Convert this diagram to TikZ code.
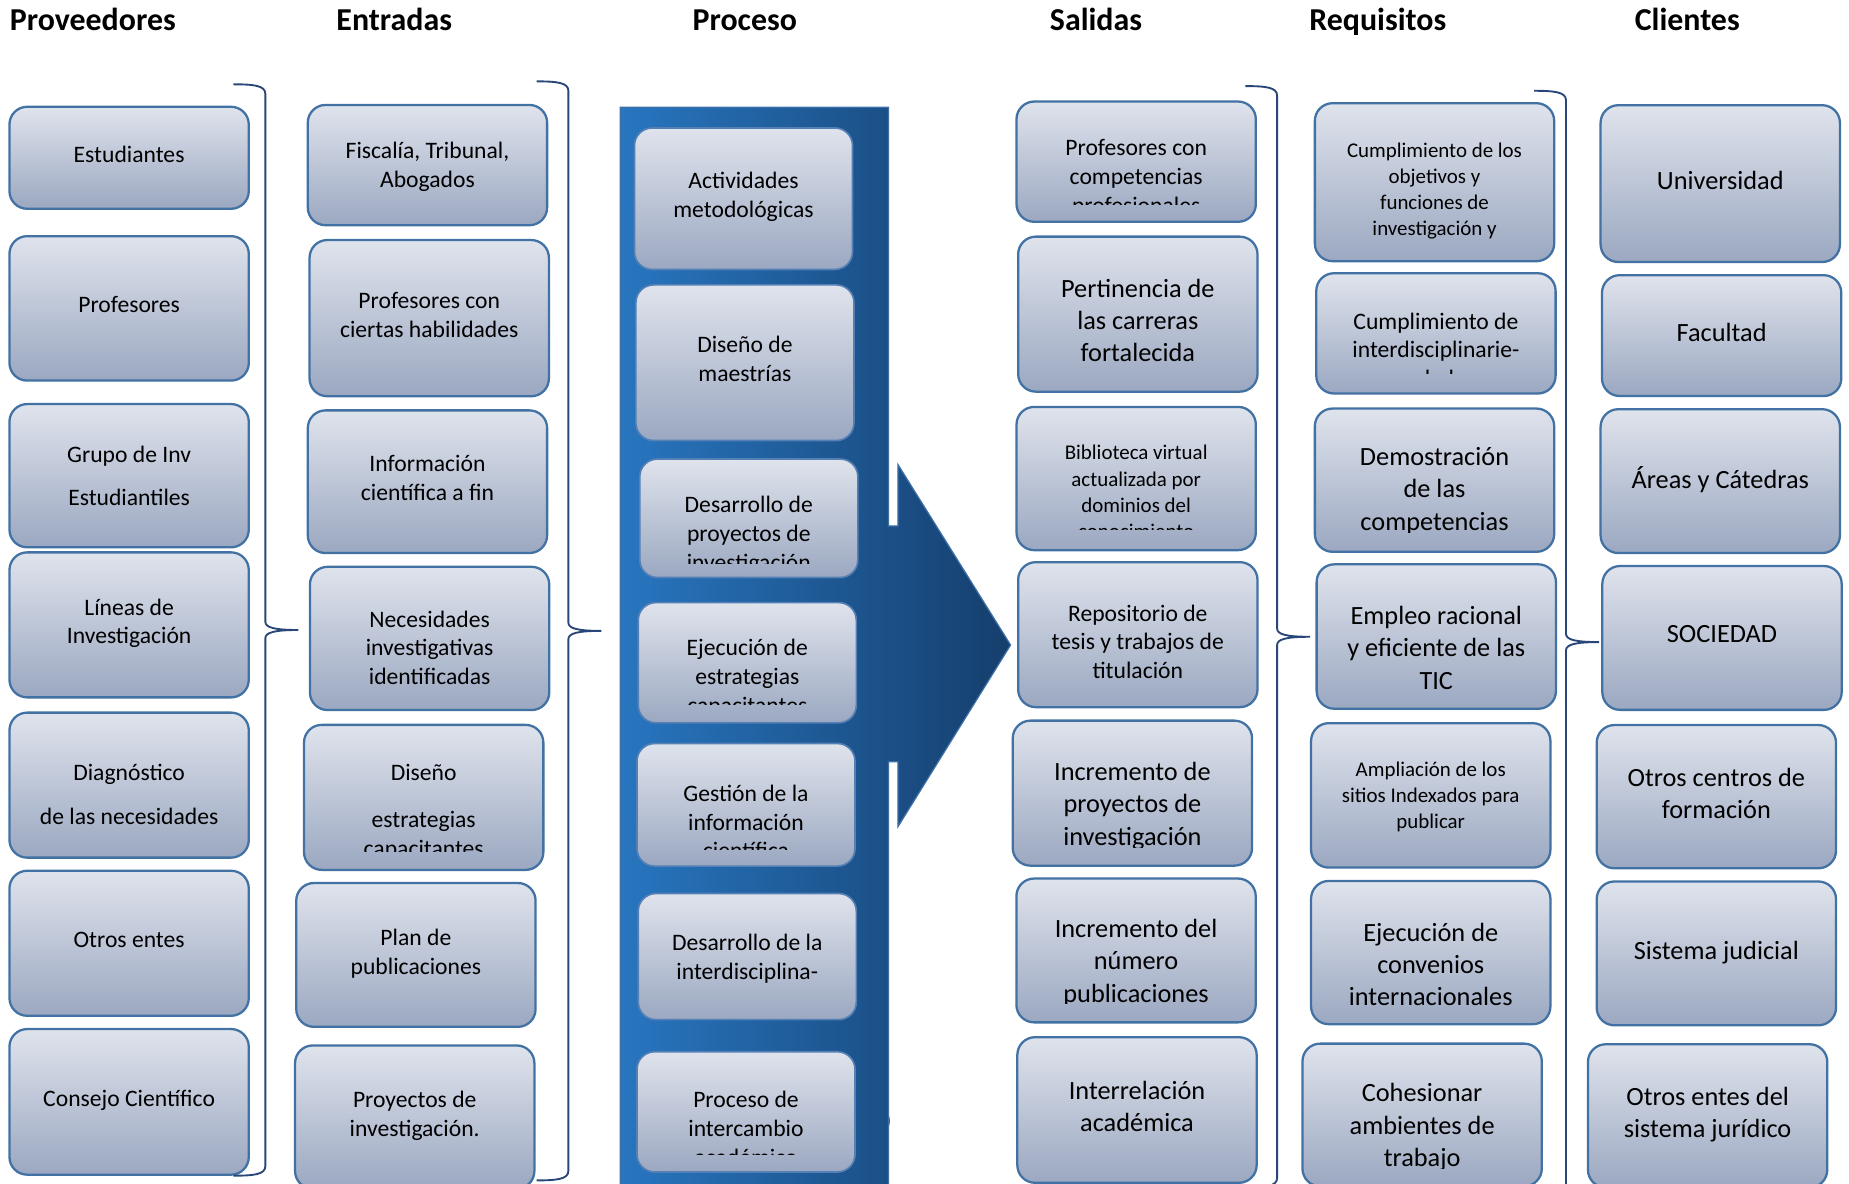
\documentclass[tikz,border=0pt]{standalone}
\usepackage{fontspec}
\setmainfont{Carlito}

\definecolor{boxline}{RGB}{66,113,163}
\definecolor{boxtop}{RGB}{223,227,236}
\definecolor{boxbot}{RGB}{155,168,193}
\definecolor{procline}{RGB}{84,128,182}
\definecolor{barleft}{RGB}{40,118,192}
\definecolor{barright}{RGB}{21,62,108}
\definecolor{barline}{RGB}{62,112,168}
\definecolor{bracecol}{RGB}{40,70,120}

\newcommand{\normtxt}{\fontsize{11.4}{13.9}\selectfont}
\newcommand{\bigtxt}{\fontsize{12.7}{15.6}\selectfont}
\newcommand{\smalltxt}{\fontsize{10.1}{12.7}\selectfont}
\newcommand{\headtxt}{\fontsize{15.4}{18}\selectfont\bfseries}

\tikzset{
  box/.style={draw=boxline, line width=1.1pt, rounded corners=0.3cm,
    top color=boxtop, bottom color=boxbot, minimum width=4.06cm,
    inner sep=0pt, align=center, font=\normtxt, text depth=0.12cm},
  procbox/.style={box, draw=procline, line width=0.8pt, minimum width=3.7cm},
  txt/.style={inner sep=0pt, align=center, font=\normtxt},
  bracket/.style={draw=bracecol, line width=0.9pt},
  head/.style={anchor=base west, inner sep=0pt, font=\headtxt}
}

\begin{document}
\begin{tikzpicture}[x=0.02cm, y=-0.02cm]

  \useasboundingbox (0,0) rectangle (1568,1004);
  \clip (0,0) rectangle (1568,1004);

  % --- Headers ---
  \node[head] (hprov) at (8,26) {Proveedores};
  \node[head] (hent) at (285,26) {Entradas};
  \node[head] (hproc) at (587,26) {Proceso};
  \node[head] (hsal) at (890,26) {Salidas};
  \node[head] (hreq) at (1110,26) {Requisitos};
  \node[head] (hcli) at (1386,26) {Clientes};

  % --- Process arrow ---
  \node[txt] (stray) at (753,951) {)};
  \path[draw=barline, line width=0.6pt, left color=barleft, right color=barright]
    (526,91) -- (753.5,91) -- (753.5,446) -- (761.5,446) -- (761.5,394)
    -- (857,547) -- (761.5,701) -- (761.5,646) -- (753.5,646)
    -- (753.5,1010) -- (526,1010) -- cycle;

  % --- Proveedores ---
  \node[box, minimum height=1.73cm] (p1) at (109.5,133.8) {Estudiantes};
  \node[box, minimum height=2.45cm] (p2) at (109.5,261.5) {Profesores};
  \node[box, minimum height=2.43cm, text depth=0pt] (p3) at (109.5,403.4) {Grupo de Inv\\[7.2pt]Estudiantiles};
  \node[box, minimum height=2.46cm] (p4) at (109.5,529.9) {Líneas de\\Investigación};
  \node[box, minimum height=2.46cm] (p5) at (109.5,665.8) {};
  \node[txt] (p5t) at ([yshift=-0.16cm]p5.center) {Diagnóstico\\[7.5pt]de las necesidades};
  \node[box, minimum height=2.46cm] (p6) at (109.5,799.9) {Otros entes};
  \node[box, minimum height=2.47cm] (p7) at (109.5,934.4) {Consejo Científico};

  % --- Entradas ---
  \node[box, minimum height=2.04cm, text depth=0pt] (e1) at (362.5,140) {Fiscalía, Tribunal,\\Abogados};
  \node[box, minimum height=2.65cm] (e2) at (364,269.8) {Profesores con\\ciertas habilidades};
  \node[box, minimum height=2.42cm] (e3) at (362.5,408.5) {Información\\científica a fin};
  \node[box, minimum height=2.43cm] (e4) at (364.3,541.4) {};
  \node[txt] (e4t) at ([yshift=-0.16cm]e4.center) {Necesidades\\investigativas\\identificadas};
  \node[box, minimum height=2.46cm] (e5) at (359.3,676.2) {};
  \begin{scope}
    \clip (256,613) rectangle (463,722);
    \node[txt] (e5t) at ([yshift=-0.25cm]e5.center) {Diseño\\[8.9pt]estrategias\\capacitantes};
  \end{scope}
  \node[box, minimum height=2.44cm] (e6) at (352.7,809.8) {Plan de\\publicaciones};
  \node[box, minimum height=2.43cm] (e7) at (351.7,947.3) {Proyectos de\\investigación.};

  % --- Proceso ---
  \node[procbox, minimum height=2.40cm] (pr1) at (630.5,168.5) {Actividades\\metodológicas};
  \node[procbox, minimum height=2.64cm] (pr2) at (631.7,307.6) {Diseño de\\maestrías};
  \node[procbox, minimum height=2.01cm] (pr3) at (635,439.5) {};
  \begin{scope}
    \clip (541,388) rectangle (729,477.5);
    \node[txt] (pr3t) at ([yshift=-0.29cm]pr3.center) {Desarrollo de\\proyectos de\\investigación};
  \end{scope}
  \node[procbox, minimum height=2.04cm] (pr4) at (633.7,562) {};
  \begin{scope}
    \clip (540,510) rectangle (728,597.5);
    \node[txt] (pr4t) at ([yshift=-0.26cm]pr4.center) {Ejecución de\\estrategias\\capacitantes};
  \end{scope}
  \node[procbox, minimum height=2.08cm] (pr5) at (632.6,682.5) {};
  \begin{scope}
    \clip (539,629) rectangle (727,720.5);
    \node[txt] (pr5t) at ([yshift=-0.29cm]pr5.center) {Gestión de la\\información\\científica};
  \end{scope}
  \node[procbox, minimum height=2.14cm, text depth=0pt] (pr6) at (633.7,811.2) {Desarrollo de la\\interdisciplina-};
  \node[procbox, minimum height=2.04cm] (pr7) at (632.6,942.9) {};
  \begin{scope}
    \clip (539,891) rectangle (727,978.8);
    \node[txt] (pr7t) at ([yshift=-0.28cm]pr7.center) {Proceso de\\intercambio\\académico};
  \end{scope}

  % --- Salidas ---
  \node[box, minimum height=2.04cm] (s1) at (963.5,137.1) {};
  \begin{scope}
    \clip (861,85) rectangle (1066,173.5);
    \node[txt] (s1t) at ([yshift=-0.28cm]s1.center) {Profesores con\\competencias\\profesionales};
  \end{scope}
  \node[box, minimum height=2.63cm] (s2) at (964.9,266.4) {};
  \node[txt, font=\bigtxt] (s2t) at ([yshift=-0.11cm]s2.center) {Pertinencia de\\las carreras\\fortalecida};
  \node[box, minimum height=2.43cm] (s3) at (963.5,405.8) {};
  \begin{scope}
    \clip (861,344) rectangle (1066,449);
    \node[txt, font=\smalltxt] (s3t) at ([yshift=-0.23cm]s3.center) {Biblioteca virtual\\actualizada por\\dominios del\\conocimiento};
  \end{scope}
  \node[box, minimum height=2.46cm] (s4) at (964.9,538.2) {};
  \node[txt] (s4t) at ([yshift=-0.12cm]s4.center) {Repositorio de\\tesis y trabajos de\\titulación};
  \node[box, minimum height=2.46cm] (s5) at (960.3,672.6) {};
  \begin{scope}
    \clip (858,610) rectangle (1063,718.6);
    \node[txt, font=\bigtxt] (s5t) at ([yshift=-0.22cm]s5.center) {Incremento de\\proyectos de\\investigación};
  \end{scope}
  \node[box, minimum height=2.44cm] (s6) at (963.4,806) {};
  \begin{scope}
    \clip (861,744) rectangle (1066,851.3);
    \node[txt, font=\bigtxt] (s6t) at ([yshift=-0.21cm]s6.center) {Incremento del\\número\\publicaciones};
  \end{scope}
  \node[box, minimum height=2.47cm, font=\bigtxt] (s7) at (964.2,941.3) {Interrelación\\académica};

  % --- Requisitos ---
  \node[box, minimum height=2.68cm] (r1) at (1216.5,154.5) {};
  \node[txt, font=\smalltxt] (r1t) at ([yshift=-0.15cm]r1.center) {Cumplimiento de los\\objetivos y\\funciones de\\investigación y};
  \node[box, minimum height=2.04cm] (r2) at (1217.7,282.7) {};
  \begin{scope}
    \clip (1114,231) rectangle (1321,316.6);
    \node[txt] (r2t) at ([yshift=-0.28cm]r2.center) {Cumplimiento de\\interdisciplinarie-\\dad};
  \end{scope}
  \node[box, minimum height=2.43cm] (r3) at (1216.5,407.2) {};
  \begin{scope}
    \clip (1114,345) rectangle (1319,451.8);
    \node[txt, font=\bigtxt] (r3t) at ([yshift=-0.18cm]r3.center) {Demostración\\de las\\competencias};
  \end{scope}
  \node[box, minimum height=2.45cm] (r4) at (1218,539.8) {};
  \node[txt, font=\bigtxt] (r4t) at ([yshift=-0.19cm]r4.center) {Empleo racional\\y eficiente de las\\TIC};
  \node[box, minimum height=2.45cm, font=\smalltxt, text depth=0pt] (r5) at (1213.3,674.5) {Ampliación de los\\sitios Indexados para\\publicar};
  \node[box, minimum height=2.43cm] (r6) at (1213.3,807.8) {};
  \node[txt, font=\bigtxt] (r6t) at ([yshift=-0.2cm]r6.center) {Ejecución de\\convenios\\internacionales};
  \node[box, minimum height=2.42cm] (r7) at (1206,945.5) {};
  \begin{scope}
    \clip (1104,884) rectangle (1309,990.6);
    \node[txt, font=\bigtxt] (r7t) at ([yshift=-0.21cm]r7.center) {Cohesionar\\ambientes de\\trabajo};
  \end{scope}

  % --- Clientes ---
  \node[box, minimum height=2.66cm, font=\bigtxt] (c1) at (1458.8,155.7) {Universidad};
  \node[box, minimum height=2.05cm, font=\bigtxt] (c2) at (1460,284.6) {Facultad};
  \node[box, minimum height=2.44cm, font=\bigtxt] (c3) at (1458.8,408) {Áreas y Cátedras};
  \node[box, minimum height=2.44cm, font=\bigtxt] (c4) at (1460.3,541) {SOCIEDAD};
  \node[box, minimum height=2.43cm, font=\bigtxt] (c5) at (1455.5,675.6) {Otros centros de\\formación};
  \node[box, minimum height=2.44cm, font=\bigtxt] (c6) at (1455.5,808.5) {Sistema judicial};
  \node[box, minimum height=2.43cm, font=\bigtxt] (c7) at (1448.1,946.3) {Otros entes del\\sistema jurídico};

  % --- Brackets ---
  \foreach \xe/\yt/\yb in {198/71.5/997, 455/69/1001, 1056/73/1007, 1301/77/1012} {
    \pgfmathsetmacro{\xs}{\xe+27}
    \pgfmathsetmacro{\xt}{\xe+55}
    \pgfmathsetmacro{\ym}{(\yt+\yb)/2}
    \draw[bracket] (\xe,\yt) .. controls (\xs-10,\yt) and (\xs,\yt+1) .. (\xs,\yt+8)
      -- (\xs,\ym-7) .. controls (\xs,\ym-2) and (\xs+8,\ym) .. (\xt,\ym)
      .. controls (\xs+8,\ym) and (\xs,\ym+2) .. (\xs,\ym+7)
      -- (\xs,\yb-8) .. controls (\xs,\yb-1) and (\xs-10,\yb) .. (\xe,\yb);
  }

\end{tikzpicture}
\end{document}
